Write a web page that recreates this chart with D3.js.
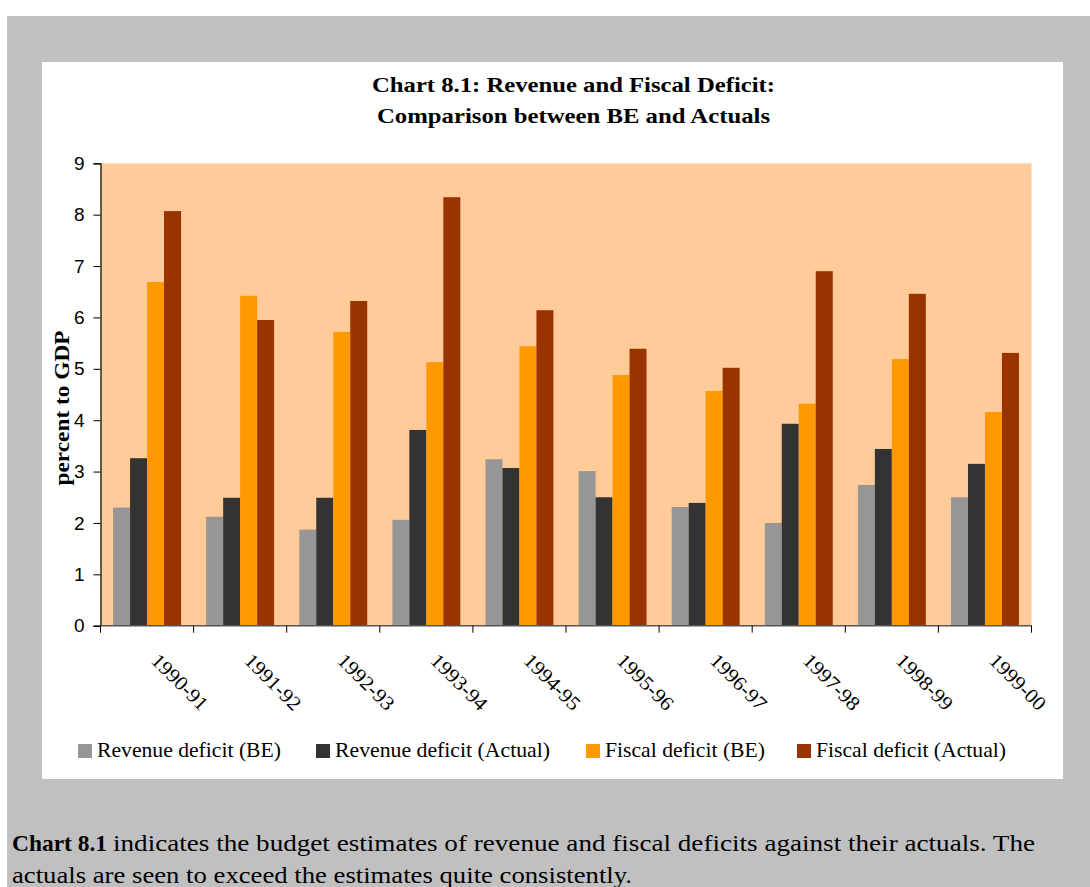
<!DOCTYPE html>
<html>
<head>
<meta charset="utf-8">
<script src="https://cdn.jsdelivr.net/npm/d3@7"></script>
<style>
  html, body { margin: 0; padding: 0; background: #ffffff; }
  svg { display: block; }
</style>
</head>
<body>
<svg id="chart" width="1090" height="887"></svg>
<script>
// ---- data ----
const categories = ["1990-91","1991-92","1992-93","1993-94","1994-95","1995-96","1996-97","1997-98","1998-99","1999-00"];
const seriesNames = ["Revenue deficit (BE)","Revenue deficit (Actual)","Fiscal deficit (BE)","Fiscal deficit (Actual)"];
const revenueDeficitBE     = [2.30, 2.12, 1.87, 2.06, 3.24, 3.01, 2.31, 2.00, 2.74, 2.50];
const revenueDeficitActual = [3.26, 2.49, 2.49, 3.81, 3.07, 2.50, 2.39, 3.93, 3.44, 3.15];
const fiscalDeficitBE      = [6.69, 6.42, 5.72, 5.13, 5.44, 4.88, 4.57, 4.32, 5.19, 4.16];
const fiscalDeficitActual  = [8.07, 5.95, 6.32, 8.34, 6.14, 5.39, 5.02, 6.90, 6.46, 5.31];
const yTicks = [0,1,2,3,4,5,6,7,8,9];
const seriesColors = ["#969696","#333333","#FF9900","#993300"];

const seriesValues = [revenueDeficitBE, revenueDeficitActual, fiscalDeficitBE, fiscalDeficitActual];
const rows = categories.map((c, i) => ({
  cat: c,
  vals: seriesNames.map((s, j) => ({ key: s, value: seriesValues[j][i], color: seriesColors[j] }))
}));

const svg = d3.select("#chart");
const serif = "'Liberation Serif','Times New Roman',serif";
const sans = "'Liberation Sans',Arial,sans-serif";

// page background
svg.append("rect").attr("x", 7).attr("y", 16).attr("width", 1083).attr("height", 871).attr("fill", "#C0C0C0");
// white chart box
svg.append("rect").attr("x", 42).attr("y", 62).attr("width", 1021).attr("height", 717).attr("fill", "#FFFFFF");

// plot area
const pLeft = 100.5, pRight = 1031.5, pTop = 163.3, pBottom = 625.7;

const x = d3.scaleBand().domain(categories).range([pLeft, pRight]).paddingInner(0.27).paddingOuter(0.135);
const xs = d3.scaleBand().domain(seriesNames).range([0, x.bandwidth()]).padding(0);
const y = d3.scaleLinear().domain([0, 9]).range([pBottom, pTop]);

svg.append("rect").attr("x", pLeft).attr("y", pTop).attr("width", pRight - pLeft).attr("height", pBottom - pTop).attr("fill", "#FFCC99");

// bars
const g = svg.append("g");
g.selectAll("g.grp").data(rows).join("g").attr("class", "grp")
  .attr("transform", d => `translate(${x(d.cat)},0)`)
  .selectAll("rect").data(d => d.vals).join("rect")
  .attr("x", d => xs(d.key))
  .attr("width", xs.bandwidth())
  .attr("y", d => y(d.value))
  .attr("height", d => y(0) - y(d.value))
  .attr("fill", d => d.color);

// y axis
const yAxis = svg.append("g").attr("transform", `translate(${pLeft},0)`)
  .call(d3.axisLeft(y).tickValues(yTicks).tickSize(7).tickPadding(9).tickFormat(d3.format("d")));
yAxis.select(".domain").attr("stroke", "#000").attr("stroke-width", 1.2);
yAxis.selectAll(".tick line").attr("stroke", "#000");
yAxis.selectAll(".tick text").attr("font-family", sans).attr("font-size", 19).attr("fill", "#000");

// x axis line + boundary ticks
const step = x.step();
const x0 = x(categories[0]) - step * x.paddingOuter();
const boundaries = d3.range(categories.length + 1).map(i => x0 + i * step);
svg.append("line").attr("x1", pLeft).attr("x2", pRight).attr("y1", pBottom).attr("y2", pBottom)
  .attr("stroke", "#555").attr("stroke-width", 1.4);
svg.append("g").selectAll("line").data(boundaries).join("line")
  .attr("x1", d => d).attr("x2", d => d).attr("y1", pBottom).attr("y2", pBottom + 7)
  .attr("stroke", "#000").attr("stroke-width", 1);

// x labels
svg.append("g").selectAll("text").data(categories).join("text")
  .attr("transform", d => `translate(${x(d) + x.bandwidth() / 2 + 3},${pBottom + 36}) rotate(45)`)
  .attr("font-family", serif).attr("font-size", 20).attr("fill", "#000")
  .attr("textLength", 71).attr("lengthAdjust", "spacingAndGlyphs")
  .text(d => d);

// title
const titleLines = ["Chart 8.1: Revenue and Fiscal Deficit:", "Comparison between BE and Actuals"];
const titleLens = [403, 393];
svg.append("g").selectAll("text").data(titleLines).join("text")
  .attr("x", 573.5).attr("y", (d, i) => 92 + i * 31)
  .attr("font-family", serif).attr("font-weight", "bold").attr("font-size", 22)
  .attr("text-anchor", "middle").attr("fill", "#000")
  .attr("textLength", (d, i) => titleLens[i]).attr("lengthAdjust", "spacingAndGlyphs")
  .text(d => d);

// y axis title
svg.append("text").attr("transform", `translate(69,408) rotate(-90)`)
  .attr("text-anchor", "middle").attr("font-family", serif).attr("font-weight", "bold")
  .attr("font-size", 22).attr("fill", "#000")
  .attr("textLength", 155).attr("lengthAdjust", "spacingAndGlyphs")
  .text("percent to GDP");

// legend
const legendX = [78, 316, 586, 797];
const legendLens = [184, 215, 160, 190];
const leg = svg.append("g").selectAll("g").data(seriesNames).join("g")
  .attr("transform", (d, i) => `translate(${legendX[i]},744)`);
leg.append("rect").attr("width", 14).attr("height", 14).attr("fill", (d, i) => seriesColors[i]);
leg.append("text").attr("x", 19).attr("y", 13).attr("font-family", serif).attr("font-size", 21)
  .attr("fill", "#000")
  .attr("textLength", (d, i) => legendLens[i]).attr("lengthAdjust", "spacingAndGlyphs")
  .text(d => d);

// paragraph below
svg.append("text").attr("x", 12).attr("y", 851).attr("font-family", serif).attr("font-weight", "bold")
  .attr("font-size", 24).attr("fill", "#000")
  .attr("textLength", 95).attr("lengthAdjust", "spacingAndGlyphs")
  .text("Chart 8.1");
svg.append("text").attr("x", 113).attr("y", 851).attr("font-family", serif)
  .attr("font-size", 24).attr("fill", "#000")
  .attr("textLength", 922).attr("lengthAdjust", "spacingAndGlyphs")
  .text("indicates the budget estimates of revenue and fiscal deficits against their actuals. The");
svg.append("text").attr("x", 12).attr("y", 883).attr("font-family", serif)
  .attr("font-size", 24).attr("fill", "#000")
  .attr("textLength", 620).attr("lengthAdjust", "spacingAndGlyphs")
  .text("actuals are seen to exceed the estimates quite consistently.");
</script>
</body>
</html>
